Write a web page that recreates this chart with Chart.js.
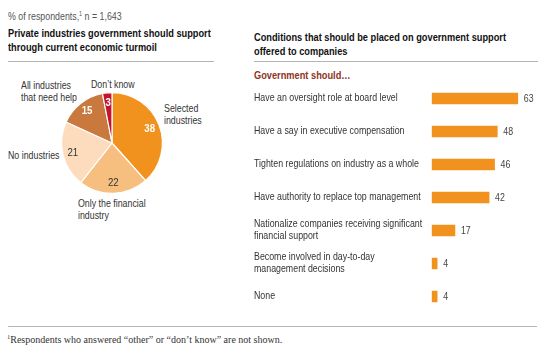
<!DOCTYPE html>
<html>
<head>
<meta charset="utf-8">
<script src="https://cdn.jsdelivr.net/npm/chart.js@4.4.1/dist/chart.umd.min.js"></script>
<style>
  body { margin: 0; background: #fff; width: 545px; height: 353px; position: relative; overflow: hidden;
         font-family: "Liberation Sans", Arial, sans-serif; color: #222; }
  .t { position: absolute; white-space: nowrap; font-size: 10.5px; line-height: 12px; color: #333;
       transform: scaleX(0.84); transform-origin: 0 0; }
  .title { font-weight: bold; font-size: 11px; line-height: 13.5px; color: #111; }
  .rule { position: absolute; height: 1px; background: #b5b5b5; }
  sup { font-size: 6.5px; vertical-align: 4px; line-height: 0; }
  #pie { position: absolute; left: 56px; top: 87px; }
  #bars { position: absolute; left: 254px; top: 82px; }
  .foot { font-family: "Liberation Serif", "DejaVu Serif", serif; font-size: 10px; color: #333; transform: none; }
</style>
</head>
<body>
<div class="t" style="left:8px;top:10px;color:#555">% of respondents,<sup>1</sup> n = 1,643</div>

<div class="t title" style="left:8px;top:27px">Private industries government should support<br>through current economic turmoil</div>
<div class="rule" style="left:8px;top:61px;width:206px"></div>

<div class="t title" style="left:254px;top:31px">Conditions that should be placed on government support<br>offered to companies</div>
<div class="rule" style="left:254px;top:61px;width:284px"></div>
<div class="t" style="left:254px;top:69px;font-weight:bold;font-size:11px;color:#8c3424">Government should…</div>

<div class="t" style="left:21px;top:79px">All industries<br>that need help</div>
<div class="t" style="left:91px;top:78px">Don’t know</div>
<div class="t" style="left:164px;top:102px">Selected<br>industries</div>
<div class="t" style="left:8px;top:149px">No industries</div>
<div class="t" style="left:78px;top:197px">Only the financial<br>industry</div>

<canvas id="pie" width="112" height="112"></canvas>
<canvas id="bars" width="291" height="231"></canvas>

<div class="rule" style="left:8px;top:326px;width:529px"></div>
<div class="t foot" style="left:7px;top:334px"><sup>1</sup>Respondents who answered “other” or “don’t know” are not shown.</div>

<script>
// pie: share of respondents, clockwise from 12 o'clock
const pieLabels = ["Selected industries", "Only the financial industry", "No industries", "All industries that need help", "Don't know"];
const pieValues = [38, 22, 21, 15, 3];
const pieColors = ["#f1921f", "#f6bf80", "#fcdcbc", "#c9793d", "#c2132f"];
const pieTextColors = ["#fff", "#333", "#333", "#fff", "#fff"];

// bars: conditions on government support
const barLabels = [
  "Have an oversight role at board level",
  "Have a say in executive compensation",
  "Tighten regulations on industry as a whole",
  "Have authority to replace top management",
  ["Nationalize companies receiving significant", "financial support"],
  ["Become involved in day-to-day", "management decisions"],
  "None"
];
const barValues = [63, 48, 46, 42, 17, 4, 4];

const FONT = '"Liberation Sans", Arial, sans-serif';
const SQUEEZE = 0.84;

// canvas has no condensed face installed, so squeeze the text horizontally
function condensedText(ctx, text, x, y, align) {
  ctx.save();
  ctx.translate(x, y);
  ctx.scale(SQUEEZE, 1);
  ctx.textAlign = align;
  ctx.textBaseline = "middle";
  ctx.fillText(text, 0, 0);
  ctx.restore();
}

const pieValueLabels = {
  id: "pieValueLabels",
  afterDatasetsDraw(chart) {
    const ctx = chart.ctx;
    const meta = chart.getDatasetMeta(0);
    meta.data.forEach((arc, i) => {
      const p = arc.getProps(["x", "y", "startAngle", "endAngle", "outerRadius"], true);
      const mid = (p.startAngle + p.endAngle) / 2;
      const r = p.outerRadius * 0.8;
      ctx.fillStyle = pieTextColors[i];
      ctx.font = (pieTextColors[i] === "#fff" ? "bold " : "") + "11.5px " + FONT;
      condensedText(ctx, String(pieValues[i]), p.x + Math.cos(mid) * r, p.y + Math.sin(mid) * r, "center");
    });
  }
};

new Chart(document.getElementById("pie"), {
  type: "pie",
  data: {
    labels: pieLabels,
    datasets: [{
      data: pieValues,
      backgroundColor: pieColors,
      borderColor: "#fff",
      borderWidth: 1.2
    }]
  },
  options: {
    responsive: false,
    animation: false,
    layout: { padding: 5 },
    plugins: { legend: { display: false }, tooltip: { enabled: false } }
  },
  plugins: [pieValueLabels]
});

const barText = {
  id: "barText",
  afterDatasetsDraw(chart) {
    const ctx = chart.ctx;
    const meta = chart.getDatasetMeta(0);
    const yScale = chart.scales.y;
    ctx.save();
    ctx.font = "10.5px " + FONT;
    ctx.fillStyle = "#333";
    // category labels, left aligned at the edge of the canvas
    barLabels.forEach((label, i) => {
      const lines = Array.isArray(label) ? label : [label];
      const y0 = yScale.getPixelForTick(i) - (lines.length - 1) * 6;
      lines.forEach((line, k) => condensedText(ctx, line, yScale.left, y0 + k * 12, "left"));
    });
    // value labels at the bar ends
    ctx.fillStyle = "#444";
    meta.data.forEach((bar, i) => {
      condensedText(ctx, String(barValues[i]), bar.x + 6, bar.y + 0.5, "left");
    });
    ctx.restore();
  }
};

new Chart(document.getElementById("bars"), {
  type: "bar",
  data: {
    labels: barLabels,
    datasets: [{
      data: barValues,
      backgroundColor: "#f1921f",
      barThickness: 11
    }]
  },
  options: {
    indexAxis: "y",
    responsive: false,
    animation: false,
    layout: { padding: { right: 4 } },
    plugins: { legend: { display: false }, tooltip: { enabled: false } },
    scales: {
      x: { display: false, min: 0, max: 80 },
      y: {
        grid: { display: false, drawTicks: false },
        border: { display: false },
        afterFit: scale => { scale.width = 177.7; },
        ticks: { display: false }
      }
    }
  },
  plugins: [barText]
});
</script>
</body>
</html>
